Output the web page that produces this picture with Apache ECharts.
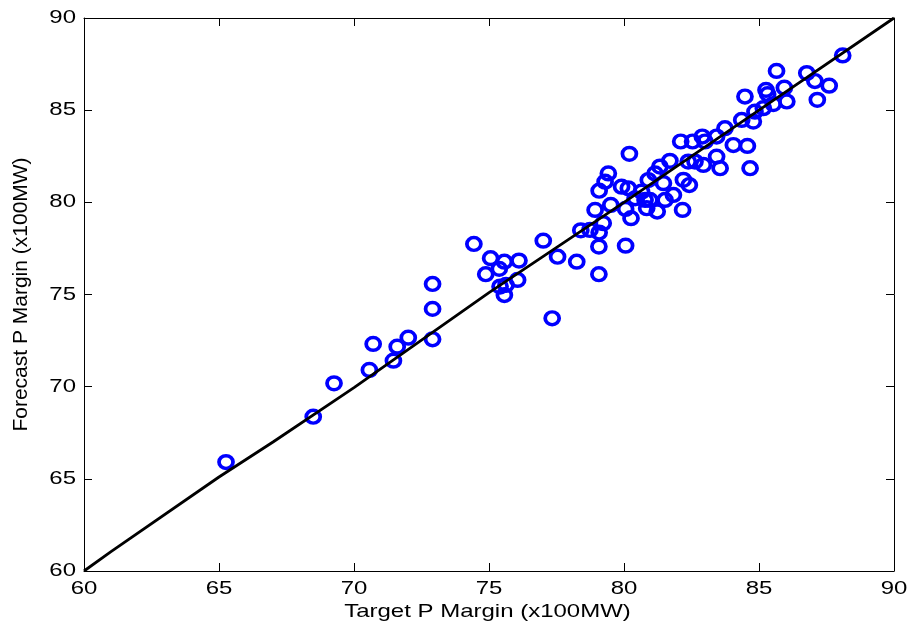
<!DOCTYPE html>
<html><head><meta charset="utf-8">
<script src="https://cdn.jsdelivr.net/npm/echarts@6/dist/echarts.min.js"></script>
<style>html,body{margin:0;padding:0;background:#fff}#c{width:913px;height:633px}</style>
</head><body><div id="c"></div>
<script>
// Scatter data: target (x) vs forecast (y)
const targetX = [65.26,68.49,69.26,70.71,70.57,71.46,71.60,72.01,72.91,72.91,72.91,74.44,75.06,74.88,75.38,75.57,76.11,76.06,75.41,75.63,75.57,77.01,77.54,78.25,77.34,79.07,79.07,79.08,78.40,78.74,79.23,80.06,
78.93,79.08,79.42,79.30,79.51,80.20,79.91,80.16,80.26,80.06,80.41,80.65,80.78,80.96,81.15,80.90,80.84,81.23,81.46,81.52,81.70,81.33,81.83,82.17,82.20,82.42,
82.10,82.54,82.90,83.00,83.43,82.38,82.63,82.94,83.43,83.56,83.74,84.36,84.05,84.57,84.67,84.79,84.85,85.16,84.48,85.26,85.32,85.53,86.03,85.94,85.65,86.77,87.07,87.60,87.16,88.10];
const forecastY = [65.91,68.37,70.18,72.32,70.91,71.41,72.17,72.66,72.57,74.22,75.57,77.74,76.97,76.10,76.39,76.78,76.84,75.79,75.43,75.52,74.97,77.92,77.05,76.78,73.71,76.10,77.60,78.36,78.48,78.50,78.87,77.65,
79.59,80.63,81.57,81.12,79.86,82.63,80.85,80.76,79.14,79.64,80.22,80.58,80.13,80.13,81.57,81.21,79.68,79.50,81.04,80.13,82.25,81.94,80.40,79.59,81.22,80.94,
83.30,83.30,83.57,83.30,83.57,82.21,82.21,82.03,82.48,81.85,84.02,84.47,83.11,83.06,81.85,84.38,84.92,85.11,85.74,86.10,85.87,85.33,85.47,86.22,87.13,87.01,86.58,86.33,85.56,87.97];
// Reference line
const lineX = [60,61,65,67,70,75,80,85,90];
const lineY = [60,61.05,65.1,67.0,69.95,75.1,80.0,85.0,90];
// Ticks and labels
const xTicks = [60,65,70,75,80,85,90];
const yTicks = [60,65,70,75,80,85,90];
const xName = 'Target P Margin (x100MW)';
const yName = 'Forecast P Margin (x100MW)';

const FONT_FAMILY = '"Liberation Sans", Arial, Helvetica, sans-serif';
const K = 1.29;      // horizontal stretch of horizontal labels in the reference
const FS = 18.6;

const chart = echarts.init(document.getElementById('c'), null, {renderer:'canvas'});
const axisCommon = {
  type:'value', min:60, max:90, interval:5,
  axisLine:{show:true, onZero:false, lineStyle:{color:'#000', width:1}},
  axisTick:{show:true, inside:true, length:8, lineStyle:{color:'#000', width:1}},
  axisLabel:{show:false},
  splitLine:{show:false}
};
const option = {
  animation:false,
  backgroundColor:'#fff',
  grid:{left:84, right:19, top:18, bottom:62, containLabel:false, outerBoundsMode:'none'},
  xAxis:[
    Object.assign({}, axisCommon, {position:'bottom'}),
    Object.assign({}, axisCommon, {position:'top'})
  ],
  yAxis:[
    Object.assign({}, axisCommon, {position:'left', name:yName, nameLocation:'middle', nameGap:52,
      nameTextStyle:{fontFamily:FONT_FAMILY, fontSize:21, color:'#000'}}),
    Object.assign({}, axisCommon, {position:'right'})
  ],
  series:[
    {type:'scatter', xAxisIndex:0, yAxisIndex:0, symbol:'circle', symbolSize:[14,12.8],
     itemStyle:{color:'rgba(0,0,0,0)', borderColor:'#0000ff', borderWidth:3.6, opacity:1}, z:2,
     data: targetX.map((x,i)=>[x, forecastY[i]])},
    {type:'line', xAxisIndex:0, yAxisIndex:0, showSymbol:false, symbol:'none',
     lineStyle:{color:'#000', width:2.8}, z:3,
     data: lineX.map((x,i)=>[x, lineY[i]])}
  ]
};
chart.setOption(option);

const y0 = chart.convertToPixel({yAxisIndex:0}, 60);
const x0 = chart.convertToPixel({xAxisIndex:0}, 60);
const g = [];
xTicks.forEach(v => g.push({type:'text', silent:true,
  x: chart.convertToPixel({xAxisIndex:0}, v), y: y0 + 18, scaleX:K,
  style:{text:String(v), fontFamily:FONT_FAMILY, fontSize:FS, fill:'#000', align:'center', verticalAlign:'middle'}}));
yTicks.forEach(v => g.push({type:'text', silent:true,
  x: x0 - 8, y: chart.convertToPixel({yAxisIndex:0}, v), scaleX:K,
  style:{text:String(v), fontFamily:FONT_FAMILY, fontSize:FS, fill:'#000', align:'right', verticalAlign:'middle'}}));
g.push({type:'text', silent:true,
  x: chart.convertToPixel({xAxisIndex:0}, 75) - 1.5, y: y0 + 41, scaleX:K,
  style:{text:xName, fontFamily:FONT_FAMILY, fontSize:FS, fill:'#000', align:'center', verticalAlign:'middle'}});
chart.setOption({graphic:g});
</script>
</body></html>
